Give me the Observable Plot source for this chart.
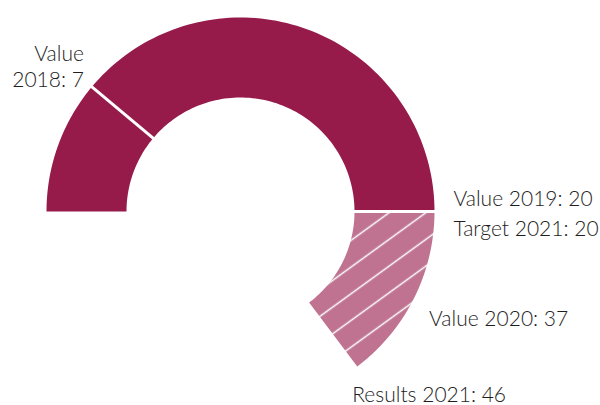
<!DOCTYPE html>
<html><head><meta charset="utf-8">
<script src="https://cdn.jsdelivr.net/npm/d3@7"></script>
<script src="https://cdn.jsdelivr.net/npm/@observablehq/plot@0.6"></script>
<style>html,body{margin:0;padding:0;background:#fff}#chart svg{display:block}</style>
</head><body><div id="chart"></div>
<script>
// ---- data ----
const segmentNames = ["2018", "2019", "2020-2021"];
const segmentStart = [0, 7, 20];
const segmentEnd = [7, 20, 46];
const segmentKind = ["value", "value", "results"];
const separatorValues = [7, 20];
const labelTexts = ["Value\n2018: 7", "Value 2019: 20", "Target 2021: 20", "Value 2020: 37", "Results 2021: 46"];
const labelValues = [7, 20, 20, 37, 46];

// ---- layout / style ----
const W = 600, H = 405, cx = 240, cy = 211, R = 194;
const innerRatio = 114 / 194;
const darkColor = "#961A4A", lightColor = "#BF7391";
// gauge angle scale: value -> degrees, clockwise from the left horizontal
const angle = d3.scaleLinear().domain([0, 7, 20, 46]).range([0, 40, 180, 233]);
function pt(v, r) {
  const t = angle(v) * Math.PI / 180;
  return {x: -Math.cos(t) * r, y: Math.sin(t) * r};
}

const poly = [];
segmentNames.forEach((name, i) => {
  const s0 = segmentStart[i], s1 = segmentEnd[i], n = 90;
  for (let k = 0; k <= n; k++) poly.push({seg: name, kind: segmentKind[i], ...pt(s0 + (s1 - s0) * k / n, 1)});
  for (let k = n; k >= 0; k--) poly.push({seg: name, kind: segmentKind[i], ...pt(s0 + (s1 - s0) * k / n, innerRatio)});
});
const seps = separatorValues.map(v => {
  const a = pt(v, innerRatio * 0.97), b = pt(v, 1.03);
  return {x1: a.x, y1: a.y, x2: b.x, y2: b.y};
});

const labelStyle = [
  {dx: -8, dy: 0, textAnchor: "end"},
  {dx: 19, dy: -6, textAnchor: "start"},
  {dx: 19, dy: 24, textAnchor: "start"},
  {dx: 29, dy: 4, textAnchor: "start"},
  {dx: -5, dy: 36, textAnchor: "start"}
];
const labelMarks = labelTexts.map((t, i) => {
  const p = pt(labelValues[i], 1);
  return Plot.text([{x: p.x, y: p.y, t}], {
    x: "x", y: "y", text: "t", lineAnchor: "bottom", lineHeight: 26 / 21,
    fontSize: 21, fontWeight: 300, fill: "#1e1e1e", ...labelStyle[i]
  });
});

const chart = Plot.plot({
  width: W, height: H, margin: 0,
  x: {domain: [-cx / R, (W - cx) / R], axis: null},
  y: {domain: [-(H - cy) / R, cy / R], axis: null},
  style: {fontFamily: "Lato, Roboto, sans-serif", background: "#fff"},
  marks: [
    Plot.line(poly.filter(d => d.kind === "value"), {x: "x", y: "y", z: "seg", fill: darkColor, stroke: "none", curve: "linear-closed"}),
    Plot.line(poly.filter(d => d.kind === "results"), {x: "x", y: "y", z: "seg", fill: "url(#hatch)", stroke: "none", curve: "linear-closed"}),
    Plot.link(seps, {x1: "x1", y1: "y1", x2: "x2", y2: "y2", stroke: "#fff", strokeWidth: 3}),
    ...labelMarks
  ]
});

const svg = d3.select(chart);
const defs = svg.insert("defs", ":first-child");
const pat = defs.append("pattern").attr("id", "hatch").attr("patternUnits", "userSpaceOnUse")
  .attr("width", 100).attr("height", 21.6).attr("patternTransform", "rotate(-36)");
pat.append("rect").attr("width", 100).attr("height", 21.6).attr("fill", lightColor);
pat.append("line").attr("x1", 0).attr("x2", 100).attr("y1", 11.3).attr("y2", 11.3)
  .attr("stroke", "#fff").attr("stroke-width", 1.6);

document.getElementById("chart").appendChild(chart);
</script>
</body></html>
